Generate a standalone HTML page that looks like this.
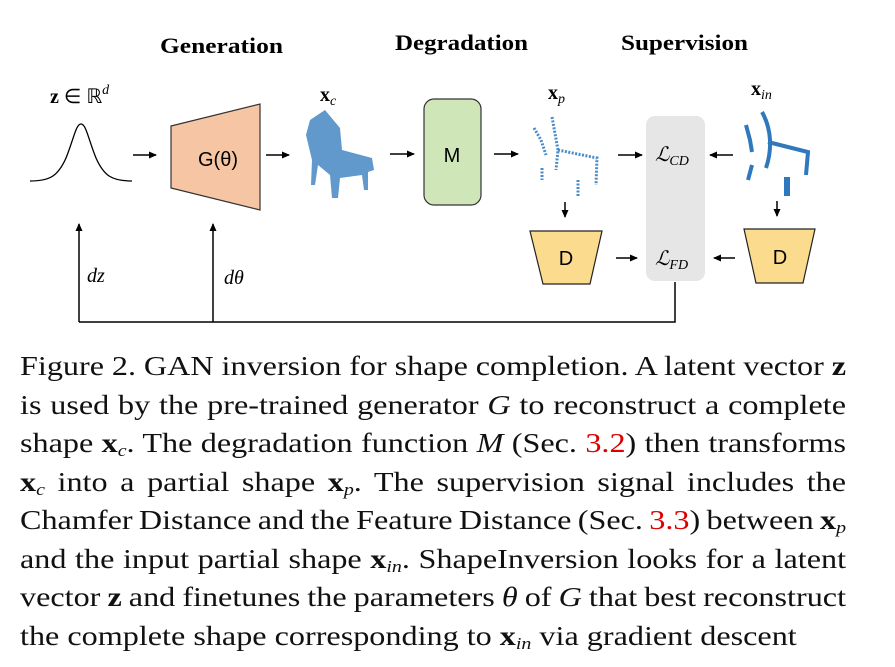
<!DOCTYPE html>
<html><head><meta charset="utf-8"><style>
body{margin:0;width:895px;height:667px;background:#fff;position:relative;overflow:hidden;font-family:"Liberation Serif",serif}
.l{position:absolute;left:20px;width:706px;font-size:27.5px;line-height:30px;text-align:justify;text-align-last:justify;white-space:nowrap;color:#111;word-spacing:-2px;transform:scaleX(1.17);transform-origin:0 0}
.r{color:#d00}
sub{font-size:17px;vertical-align:-4px;line-height:0}
</style></head><body>
<svg width="895" height="340" style="position:absolute;left:0;top:0" font-family="Liberation Serif">
<defs><marker id="a" markerWidth="8" markerHeight="8" refX="7" refY="4" orient="auto" markerUnits="userSpaceOnUse"><path d="M0,0.5 L8,4 L0,7.5z" fill="#000"/></marker></defs>
<g font-weight="bold" font-size="22" lengthAdjust="spacingAndGlyphs"><text x="160" y="53" textLength="123" lengthAdjust="spacingAndGlyphs">Generation</text><text x="395" y="50" textLength="133" lengthAdjust="spacingAndGlyphs">Degradation</text><text x="621" y="50" textLength="127" lengthAdjust="spacingAndGlyphs">Supervision</text></g>
<g font-size="20" font-style="italic"><text x="50" y="103"><tspan font-weight="bold" font-style="normal">z</tspan><tspan font-style="normal"> ∈ ℝ</tspan><tspan font-size="14" dy="-9">d</tspan></text>
<text x="320" y="101" font-weight="bold" font-style="normal">x<tspan font-size="14" font-style="italic" font-weight="normal" dy="4">c</tspan></text>
<text x="548" y="99" font-weight="bold" font-style="normal">x<tspan font-size="14" font-style="italic" font-weight="normal" dy="4">p</tspan></text>
<text x="751" y="95" font-weight="bold" font-style="normal">x<tspan font-size="14" font-style="italic" font-weight="normal" dy="4">in</tspan></text>
<text x="87" y="282">dz</text><text x="224" y="284">dθ</text></g>
<path d="M30,181 C50,181 58,176 66,158 C74,138 76,124 81,124 C86,124 88,138 96,158 C104,176 112,181 132,181" fill="none" stroke="#000" stroke-width="1.3"/>
<polygon points="171,126 260,104 260,210 171,188" fill="#f6c6a4" stroke="#333" stroke-width="1.2"/>
<text x="218" y="166" text-anchor="middle" font-family="Liberation Sans" font-size="20">G(θ)</text>
<rect x="424" y="99" width="57" height="106" rx="10" fill="#cfe6b8" stroke="#333" stroke-width="1.2"/>
<text x="452" y="162" text-anchor="middle" font-family="Liberation Sans" font-size="20">M</text>
<rect x="646" y="116" width="59" height="165" rx="9" fill="#e6e6e6"/>
<g font-size="20" font-style="italic"><text x="655" y="161">ℒ<tspan font-size="14" dy="4">CD</tspan></text><text x="655" y="265">ℒ<tspan font-size="14" dy="4">FD</tspan></text></g>
<polygon points="530,231 602,231 590,284 543,284" fill="#fbdc8e" stroke="#222" stroke-width="1.2"/>
<polygon points="744,229 815,229 803,283 756,283" fill="#fbdc8e" stroke="#222" stroke-width="1.2"/>
<g font-family="Liberation Sans" font-size="20" text-anchor="middle"><text x="566" y="265">D</text><text x="780" y="264">D</text></g>
<g fill="#3a7fc0" opacity="0.8">
<polygon points="310,120 325,110 340,128 342,150 372,158 374,170 368,172 368,190 364,190 362,175 340,178 338,198 332,198 330,175 318,165 315,185 311,185 312,160 306,135"/>
</g>
<g fill="none" stroke="#4a8cc8" stroke-width="3" stroke-dasharray="2,1.5">
<path d="M534,128 L541,140 L546,155"/><path d="M552,117 L558,150 L556,170"/><path d="M558,150 L597,158 L596,185"/><path d="M542,168 L542,180"/><path d="M578,180 L578,196"/>
</g>
<g fill="none" stroke="#2f78be" stroke-width="4">
<path d="M746,125 L750,140 L752,152"/><path d="M762,112 C772,130 772,150 766,168"/><path d="M768,142 L808,152 L806,175"/><path d="M752,165 L748,180"/><path d="M787,177 L787,196" stroke-width="6"/>
</g>
<g stroke="#000" stroke-width="1.5" fill="none" marker-end="url(#a)">
<line x1="133" y1="155" x2="156" y2="155"/><line x1="266" y1="155" x2="289" y2="155"/><line x1="390" y1="154" x2="414" y2="154"/><line x1="494" y1="154" x2="518" y2="154"/>
<line x1="618" y1="155" x2="642" y2="155"/><line x1="733" y1="155" x2="710" y2="155"/><line x1="616" y1="258" x2="637" y2="258"/><line x1="735" y1="258" x2="714" y2="258"/>
<line x1="565" y1="202" x2="565" y2="217"/><line x1="777" y1="201" x2="777" y2="216"/>
<line x1="79" y1="322" x2="79" y2="224"/><line x1="213" y1="322" x2="213" y2="224"/>
</g>
<polyline points="675,282 675,322 79,322" fill="none" stroke="#000" stroke-width="1.5"/>
</svg>
<div class="l" style="top:351px">Figure 2. GAN inversion for shape completion. A latent vector <b>z</b></div>
<div class="l" style="top:390px">is used by the pre-trained generator <i>G</i> to reconstruct a complete</div>
<div class="l" style="top:428px">shape <b>x</b><sub><i>c</i></sub>. The degradation function <i>M</i> (Sec. <span class="r">3.2</span>) then transforms</div>
<div class="l" style="top:467px"><b>x</b><sub><i>c</i></sub> into a partial shape <b>x</b><sub><i>p</i></sub>. The supervision signal includes the</div>
<div class="l" style="top:505px">Chamfer Distance and the Feature Distance (Sec. <span class="r">3.3</span>) between <b>x</b><sub><i>p</i></sub></div>
<div class="l" style="top:544px">and the input partial shape <b>x</b><sub><i>in</i></sub>. ShapeInversion looks for a latent</div>
<div class="l" style="top:582px">vector <b>z</b> and finetunes the parameters <i>θ</i> of <i>G</i> that best reconstruct</div>
<div class="l" style="top:621px;text-align-last:left;width:auto;word-spacing:0">the complete shape corresponding to <b>x</b><sub><i>in</i></sub> via gradient descent</div>
</body></html>
